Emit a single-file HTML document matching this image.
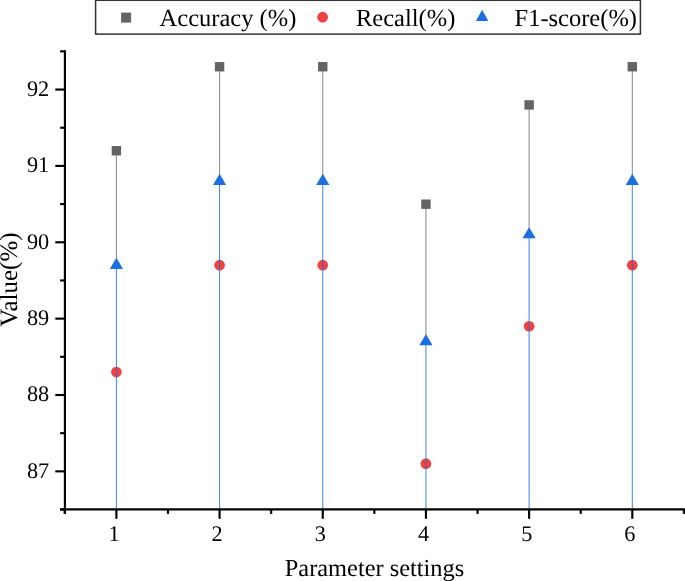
<!DOCTYPE html><html><head><meta charset="utf-8"><style>html,body{margin:0;padding:0;background:#fff;width:685px;height:581px;overflow:hidden}svg{display:block}text{font-family:"Liberation Serif",serif;fill:#000;text-rendering:geometricPrecision}svg{will-change:transform}</style></head><body>
<svg width="685" height="581" viewBox="0 0 685 581">
<rect width="685" height="581" fill="#fff"/>
<line x1="116.40" y1="150.64" x2="116.40" y2="265.18" stroke="#646464" stroke-opacity="0.75" stroke-width="1.05"/>
<line x1="219.58" y1="66.64" x2="219.58" y2="181.18" stroke="#646464" stroke-opacity="0.75" stroke-width="1.05"/>
<line x1="322.76" y1="66.64" x2="322.76" y2="181.18" stroke="#646464" stroke-opacity="0.75" stroke-width="1.05"/>
<line x1="425.94" y1="204.09" x2="425.94" y2="341.54" stroke="#646464" stroke-opacity="0.75" stroke-width="1.05"/>
<line x1="529.12" y1="104.82" x2="529.12" y2="234.63" stroke="#646464" stroke-opacity="0.75" stroke-width="1.05"/>
<line x1="632.30" y1="66.64" x2="632.30" y2="181.18" stroke="#646464" stroke-opacity="0.75" stroke-width="1.05"/>
<circle cx="116.40" cy="372.08" r="5.35" fill="#F04143"/>
<circle cx="219.58" cy="265.18" r="5.35" fill="#F04143"/>
<circle cx="322.76" cy="265.18" r="5.35" fill="#F04143"/>
<circle cx="425.94" cy="463.71" r="5.35" fill="#F04143"/>
<circle cx="529.12" cy="326.27" r="5.35" fill="#F04143"/>
<circle cx="632.30" cy="265.18" r="5.35" fill="#F04143"/>
<line x1="116.40" y1="265.18" x2="116.40" y2="509.40" stroke="#1B6FDF" stroke-opacity="0.85" stroke-width="1.0"/>
<line x1="219.58" y1="181.18" x2="219.58" y2="509.40" stroke="#1B6FDF" stroke-opacity="0.85" stroke-width="1.0"/>
<line x1="322.76" y1="181.18" x2="322.76" y2="509.40" stroke="#1B6FDF" stroke-opacity="0.85" stroke-width="1.0"/>
<line x1="425.94" y1="341.54" x2="425.94" y2="509.40" stroke="#1B6FDF" stroke-opacity="0.85" stroke-width="1.0"/>
<line x1="529.12" y1="234.63" x2="529.12" y2="509.40" stroke="#1B6FDF" stroke-opacity="0.85" stroke-width="1.0"/>
<line x1="632.30" y1="181.18" x2="632.30" y2="509.40" stroke="#1B6FDF" stroke-opacity="0.85" stroke-width="1.0"/>
<rect x="111.70" y="146.04" width="9.4" height="9.4" fill="#646464"/>
<rect x="214.88" y="62.04" width="9.4" height="9.4" fill="#646464"/>
<rect x="318.06" y="62.04" width="9.4" height="9.4" fill="#646464"/>
<rect x="421.24" y="199.49" width="9.4" height="9.4" fill="#646464"/>
<rect x="524.42" y="100.22" width="9.4" height="9.4" fill="#646464"/>
<rect x="627.60" y="62.04" width="9.4" height="9.4" fill="#646464"/>
<polygon points="116.40,257.71 123.00,268.91 109.80,268.91" fill="#1B6FDF"/>
<polygon points="219.58,173.72 226.18,184.92 212.98,184.92" fill="#1B6FDF"/>
<polygon points="322.76,173.72 329.36,184.92 316.16,184.92" fill="#1B6FDF"/>
<polygon points="425.94,334.07 432.54,345.27 419.34,345.27" fill="#1B6FDF"/>
<polygon points="529.12,227.17 535.72,238.37 522.52,238.37" fill="#1B6FDF"/>
<polygon points="632.30,173.72 638.90,184.92 625.70,184.92" fill="#1B6FDF"/>
<line x1="64.9" y1="50.17" x2="64.9" y2="513.90" stroke="#000" stroke-width="2.15"/>
<line x1="60.10" y1="509.4" x2="685" y2="509.4" stroke="#000" stroke-width="2.15"/>
<line x1="55.30" y1="471.35" x2="64.9" y2="471.35" stroke="#000" stroke-width="2.15"/>
<text x="49.2" y="477.85" font-size="22.3" text-anchor="end">87</text>
<line x1="55.30" y1="394.99" x2="64.9" y2="394.99" stroke="#000" stroke-width="2.15"/>
<text x="49.2" y="401.49" font-size="22.3" text-anchor="end">88</text>
<line x1="55.30" y1="318.63" x2="64.9" y2="318.63" stroke="#000" stroke-width="2.15"/>
<text x="49.2" y="325.13" font-size="22.3" text-anchor="end">89</text>
<line x1="55.30" y1="242.27" x2="64.9" y2="242.27" stroke="#000" stroke-width="2.15"/>
<text x="49.2" y="248.77" font-size="22.3" text-anchor="end">90</text>
<line x1="55.30" y1="165.91" x2="64.9" y2="165.91" stroke="#000" stroke-width="2.15"/>
<text x="49.2" y="172.41" font-size="22.3" text-anchor="end">91</text>
<line x1="55.30" y1="89.55" x2="64.9" y2="89.55" stroke="#000" stroke-width="2.15"/>
<text x="49.2" y="96.05" font-size="22.3" text-anchor="end">92</text>
<line x1="60.10" y1="509.53" x2="64.9" y2="509.53" stroke="#000" stroke-width="2.15"/>
<line x1="60.10" y1="433.17" x2="64.9" y2="433.17" stroke="#000" stroke-width="2.15"/>
<line x1="60.10" y1="356.81" x2="64.9" y2="356.81" stroke="#000" stroke-width="2.15"/>
<line x1="60.10" y1="280.45" x2="64.9" y2="280.45" stroke="#000" stroke-width="2.15"/>
<line x1="60.10" y1="204.09" x2="64.9" y2="204.09" stroke="#000" stroke-width="2.15"/>
<line x1="60.10" y1="127.73" x2="64.9" y2="127.73" stroke="#000" stroke-width="2.15"/>
<line x1="60.10" y1="51.37" x2="64.9" y2="51.37" stroke="#000" stroke-width="2.15"/>
<line x1="116.40" y1="509.4" x2="116.40" y2="518.80" stroke="#000" stroke-width="2.15"/>
<text x="114.00" y="540.8" font-size="22.3" text-anchor="middle">1</text>
<line x1="219.58" y1="509.4" x2="219.58" y2="518.80" stroke="#000" stroke-width="2.15"/>
<text x="217.18" y="540.8" font-size="22.3" text-anchor="middle">2</text>
<line x1="322.76" y1="509.4" x2="322.76" y2="518.80" stroke="#000" stroke-width="2.15"/>
<text x="320.36" y="540.8" font-size="22.3" text-anchor="middle">3</text>
<line x1="425.94" y1="509.4" x2="425.94" y2="518.80" stroke="#000" stroke-width="2.15"/>
<text x="423.54" y="540.8" font-size="22.3" text-anchor="middle">4</text>
<line x1="529.12" y1="509.4" x2="529.12" y2="518.80" stroke="#000" stroke-width="2.15"/>
<text x="526.72" y="540.8" font-size="22.3" text-anchor="middle">5</text>
<line x1="632.30" y1="509.4" x2="632.30" y2="518.80" stroke="#000" stroke-width="2.15"/>
<text x="629.90" y="540.8" font-size="22.3" text-anchor="middle">6</text>
<line x1="64.81" y1="509.4" x2="64.81" y2="513.90" stroke="#000" stroke-width="2.15"/>
<line x1="167.99" y1="509.4" x2="167.99" y2="513.90" stroke="#000" stroke-width="2.15"/>
<line x1="271.17" y1="509.4" x2="271.17" y2="513.90" stroke="#000" stroke-width="2.15"/>
<line x1="374.35" y1="509.4" x2="374.35" y2="513.90" stroke="#000" stroke-width="2.15"/>
<line x1="477.53" y1="509.4" x2="477.53" y2="513.90" stroke="#000" stroke-width="2.15"/>
<line x1="580.71" y1="509.4" x2="580.71" y2="513.90" stroke="#000" stroke-width="2.15"/>
<line x1="683.89" y1="509.4" x2="683.89" y2="513.90" stroke="#000" stroke-width="2.15"/>
<text x="374.5" y="575.7" font-size="24.4" text-anchor="middle">Parameter settings</text>
<text transform="translate(17.4,279.6) rotate(-90)" font-size="25" text-anchor="middle">Value(%)</text>
<rect x="95.6" y="0.3" width="544.8" height="33.8" fill="#fff" stroke="#333" stroke-width="1.5"/>
<rect x="121.1" y="12.6" width="10" height="10" fill="#646464"/>
<text x="159.6" y="25.7" font-size="24.5">Accuracy (%)</text>
<circle cx="322.6" cy="17.2" r="5.4" fill="#F04143"/>
<text x="356" y="25.7" font-size="24.5">Recall(%)</text>
<polygon points="482.1,9.8 488.3,20.9 475.9,20.9" fill="#1B6FDF"/>
<text x="514.5" y="25.7" font-size="24.5">F1-score(%)</text>
</svg></body></html>
